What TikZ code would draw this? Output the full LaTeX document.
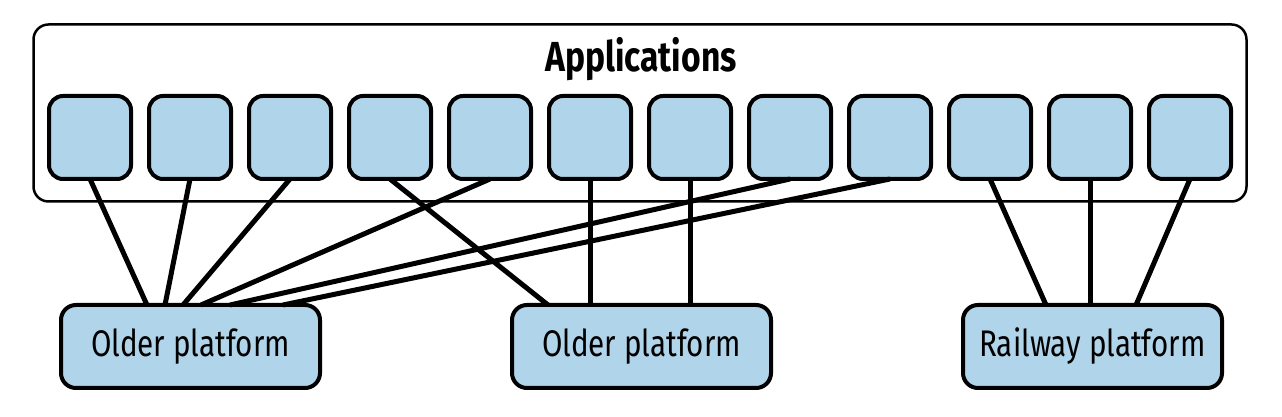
\documentclass[tikz,border=0pt]{standalone}
\usepackage{fontspec}
\setmainfont{Fira Sans}[FakeStretch=0.8]
\usetikzlibrary{positioning,calc}
\definecolor{appblue}{RGB}{176,212,234}

\begin{document}
\begin{tikzpicture}[x=1pt, y=1pt,
  app/.style={draw, line width=4pt, rounded corners=14pt, fill=appblue, minimum width=82pt, minimum height=83pt, outer sep=0pt},
  platform/.style={draw, line width=4pt, rounded corners=15pt, fill=appblue, minimum width=259pt, minimum height=83pt, outer sep=0pt, font=\fontsize{37}{40}\selectfont},
  link/.style={line width=5pt}]
  \useasboundingbox (0,0) rectangle (1282,417);

  \node[draw, line width=2.5pt, rounded corners=15pt, minimum width=1213pt, minimum height=177pt, outer sep=0pt] at (640,304) (apps) {};
  \node[anchor=base, font=\bfseries\fontsize{42}{46}\selectfont] at (641,345) (title) {Applications};

  \node[app] at (90,279.5) (a_1) {};
  \node[app] (a_2) [right=18pt of a_1] {};
  \node[app] (a_3) [right=18pt of a_2] {};
  \node[app] (a_4) [right=18pt of a_3] {};
  \node[app] (a_5) [right=18pt of a_4] {};
  \node[app] (a_6) [right=18pt of a_5] {};
  \node[app] (a_7) [right=18pt of a_6] {};
  \node[app] (a_8) [right=18pt of a_7] {};
  \node[app] (a_9) [right=18pt of a_8] {};
  \node[app] (a_10) [right=18pt of a_9] {};
  \node[app] (a_11) [right=18pt of a_10] {};
  \node[app] (a_12) [right=18pt of a_11] {};

  \node[platform] at (190.5,70.5) (p_1) {Older platform};
  \node[platform] (p_2) [right=192pt of p_1] {Older platform};
  \node[platform] (p_3) [right=192pt of p_2] {Railway platform};

  % older platform, left
  \draw[link] (a_1.south) -- ([xshift=-43.5pt]p_1.north);
  \draw[link] (a_2.south) -- ([xshift=-25.5pt]p_1.north);
  \draw[link] (a_3.south) -- ([xshift=-7.5pt]p_1.north);
  \draw[link] (a_5.south) -- ([xshift=10.5pt]p_1.north);
  \draw[link] (a_8.south) -- ([xshift=39.5pt]p_1.north);
  \draw[link] (a_9.south) -- ([xshift=92.5pt]p_1.north);

  % older platform, middle
  \draw[link] (a_4.south) -- ([xshift=-93.5pt]p_2.north);
  \draw[link] (a_6.south) -- (a_6.south |- p_2.north);
  \draw[link] (a_7.south) -- (a_7.south |- p_2.north);

  % railway platform
  \draw[link] (a_10.south) -- ([xshift=-46.5pt]p_3.north);
  \draw[link] (a_11.south) -- (a_11.south |- p_3.north);
  \draw[link] (a_12.south) -- ([xshift=43.5pt]p_3.north);

\end{tikzpicture}
\end{document}
